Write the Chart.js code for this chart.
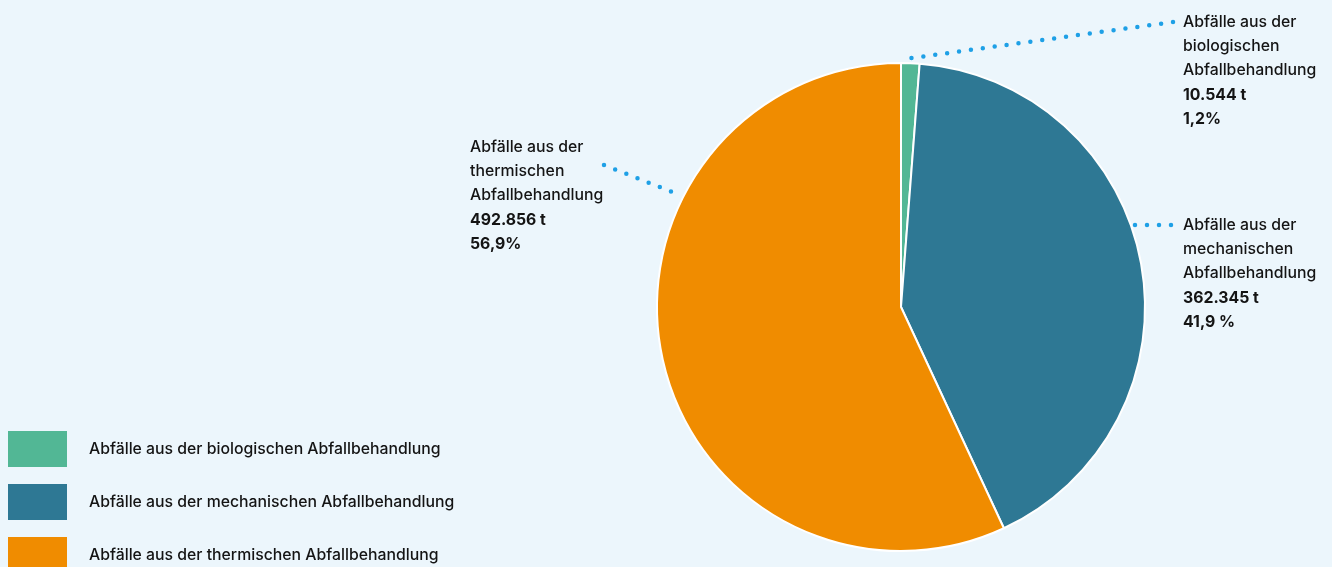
<!DOCTYPE html>
<html><head><meta charset="utf-8">
<script src="https://cdn.jsdelivr.net/npm/chart.js@4"></script>
<style>html,body{margin:0;padding:0;background:#ECF6FC;overflow:hidden;} canvas{display:block;}</style>
</head><body>
<canvas id="c" width="1332" height="567"></canvas>
<script>
const categories = ['Abfälle aus der biologischen Abfallbehandlung','Abfälle aus der mechanischen Abfallbehandlung','Abfälle aus der thermischen Abfallbehandlung'];
const nameLines = [['Abfälle aus der','biologischen','Abfallbehandlung'],['Abfälle aus der','mechanischen','Abfallbehandlung'],['Abfälle aus der','thermischen','Abfallbehandlung']];
const tonnes = [10544, 362345, 492856];
const tonnesLabels = ['10.544 t','362.345 t','492.856 t'];
const percentLabels = ['1,2%','41,9 %','56,9%'];
const colors = ['#52B795','#2E7894','#F08C00'];

// label / leader layout (presentation only)
const leaders = [
  {angle:null, gap:5, ex:1173, ey:22, tx:1183, ty:22},
  {angle:70.7, gap:4, ex:1171, ey:225, tx:1183, ty:225},
  {angle:296.7, gap:12, ex:604, ey:165, tx:470, ty:147}
];
const FONT = 'Inter, "Liberation Sans", Arial, sans-serif';
const TEXT = '#141414';
const LH = 24.3;

const labelPlugin = {
  id:'labels',
  beforeDraw(chart){
    const c = chart.ctx; c.save(); c.fillStyle='#ECF6FC'; c.fillRect(0,0,chart.width,chart.height); c.restore();
  },
  afterDatasetsDraw(chart){
    const c = chart.ctx;
    const meta = chart.getDatasetMeta(0);
    meta.data.forEach((arc,i)=>{
      const L = leaders[i];
      let ang = L.angle===null ? (arc.startAngle+arc.endAngle)/2 : (L.angle-90)*Math.PI/180;
      const r = arc.outerRadius + L.gap;
      let sx = arc.x + r*Math.cos(ang), sy = arc.y + r*Math.sin(ang);
      const dx = sx-L.ex, dy = sy-L.ey, len = Math.hypot(dx,dy);
      sx += dx/len*0.8; sy += dy/len*0.8;
      c.save();
      c.strokeStyle='#1EA0E6'; c.lineWidth=4.5; c.lineCap='round'; c.setLineDash([0,12]);
      c.beginPath(); c.moveTo(L.ex,L.ey); c.lineTo(sx,sy); c.stroke();
      c.restore();
      c.save();
      c.fillStyle=TEXT; c.textBaseline='middle'; c.textAlign='left';
      const lines = nameLines[i].concat([tonnesLabels[i], percentLabels[i]]);
      lines.forEach((t,k)=>{
        c.font = (k>=3?'700 ':'500 ')+'15.8px '+FONT;
        c.fillText(t, L.tx, L.ty + k*LH);
      });
      c.restore();
    });
    // legend
    c.save();
    categories.forEach((name,i)=>{
      const y = 431 + i*53;
      c.fillStyle = colors[i];
      c.fillRect(8, y, 59, 36);
      c.fillStyle = TEXT; c.textBaseline='middle'; c.font='500 15.8px '+FONT;
      c.fillText(name, 89, y+18);
    });
    c.restore();
  }
};

new Chart(document.getElementById('c'), {
  type:'pie',
  data:{ labels:categories, datasets:[{ data:tonnes, backgroundColor:colors, borderColor:'#ffffff', borderWidth:2 }] },
  options:{
    responsive:false, animation:false, events:[],
    radius:244,
    layout:{padding:{left:480,right:10,top:57,bottom:10}},
    plugins:{legend:{display:false}, tooltip:{enabled:false}}
  },
  plugins:[labelPlugin]
});
</script>
</body></html>
